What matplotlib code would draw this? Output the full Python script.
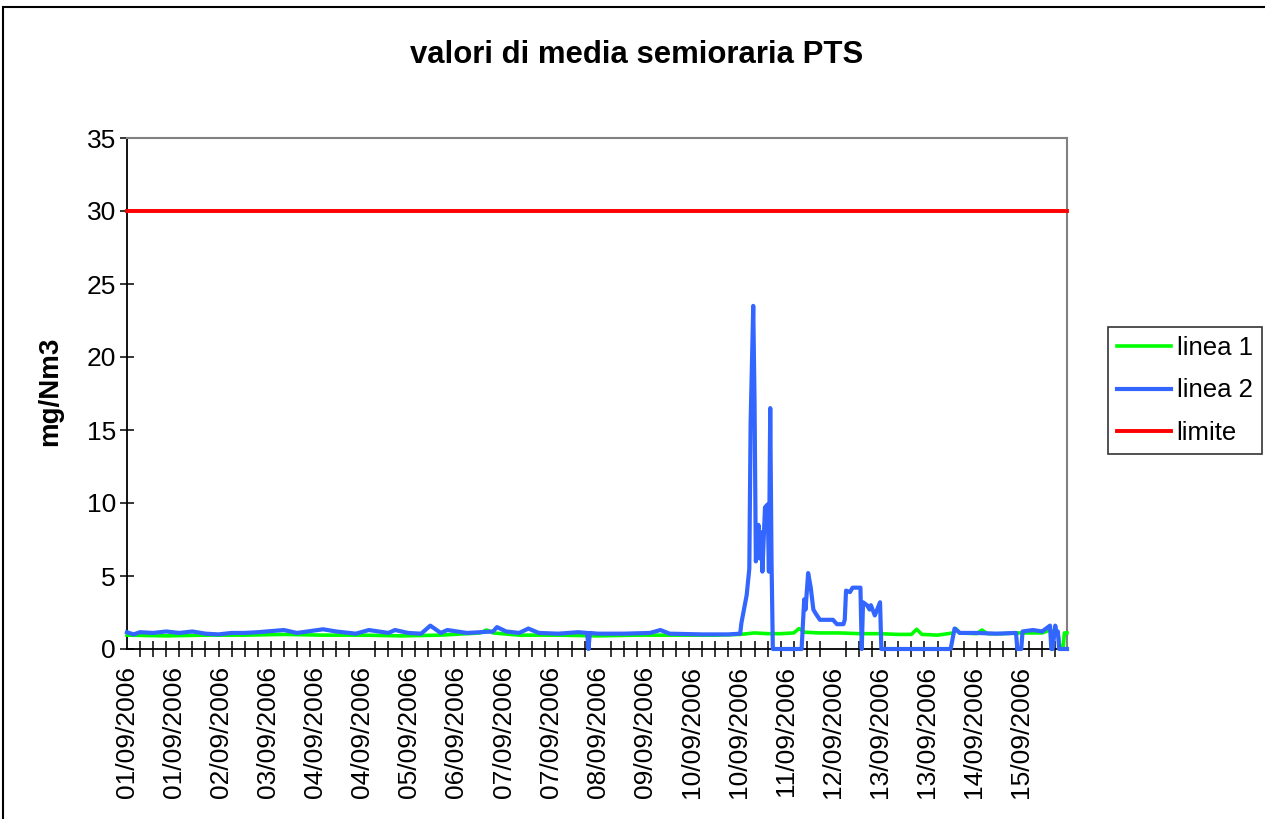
import matplotlib
matplotlib.use('Agg')
from matplotlib import pyplot as plt
from matplotlib.patches import Rectangle
from matplotlib.ticker import FixedLocator

plt.rcParams['font.family'] = ['Liberation Sans', 'DejaVu Sans']

# dati: medie semiorarie (indice = semiora dal 01/09/2006 00:00), 720 valori totali
n_punti = 720

linea1_idx = [0, 30, 60, 90, 120, 150, 180, 210, 240, 270, 275, 280, 300, 330, 360, 390,
              420, 450, 469, 480, 490, 500, 510, 514, 518, 530, 545, 560, 575, 590, 600,
              604, 608, 620, 632, 634, 637, 650, 654, 658, 670, 680, 700, 706, 712, 714,
              716, 717, 719]
linea1_val = [0.95, 0.9, 0.95, 0.95, 1.0, 0.95, 0.95, 0.9, 0.95, 1.1, 1.3, 1.1, 0.95, 0.95,
              0.9, 0.95, 0.95, 0.95, 1.0, 1.1, 1.05, 1.05, 1.1, 1.4, 1.15, 1.1, 1.1, 1.05,
              1.05, 1.0, 1.0, 1.35, 1.0, 0.95, 1.1, 1.4, 1.1, 1.05, 1.3, 1.05, 1.05, 1.1,
              1.1, 1.3, 1.1, 0.0, 0.0, 1.1, 1.1]

linea2_idx = [0, 5, 10, 20, 30, 40, 50, 60, 70, 80, 90, 100, 120, 130, 150, 160, 175, 185,
              200, 205, 215, 225, 232, 240, 245, 260, 280, 283, 290, 300, 307, 315, 330,
              345, 352, 353, 354, 360, 380, 400, 408, 415, 440, 460, 469,
              470, 474, 476, 477, 479, 480, 481, 483, 484, 485, 486, 488, 490, 491, 492,
              493, 494, 516, 518, 519, 521, 523, 525, 527, 530, 540, 543, 548, 549, 550,
              553, 555, 561, 562, 563, 566, 568, 569, 572, 576, 577, 630, 633, 637, 650,
              665, 680, 681, 684, 685, 693, 700, 706, 707, 708, 710, 711, 712, 713, 719]
linea2_val = [1.15, 1.0, 1.15, 1.1, 1.2, 1.1, 1.2, 1.05, 1.0, 1.1, 1.1, 1.15, 1.3, 1.1, 1.35,
              1.2, 1.05, 1.3, 1.1, 1.3, 1.1, 1.05, 1.6, 1.1, 1.3, 1.1, 1.2, 1.5, 1.2, 1.1,
              1.4, 1.1, 1.05, 1.15, 1.1, 0.0, 1.1, 1.05, 1.05, 1.1, 1.3, 1.05, 1.0, 1.0,
              1.05,
              1.8, 3.7, 5.5, 15.5, 23.5, 17.0, 6.0, 8.5, 6.2, 8.0, 5.3, 9.7, 9.9, 5.3, 16.5,
              6.0, 0.0, 0.0, 3.4, 2.7, 5.2, 4.2, 2.7, 2.4, 2.0, 2.0, 1.7, 1.7, 2.0, 4.0,
              3.9, 4.2, 4.2, 0.0, 3.2, 3.0, 2.7, 3.0, 2.3, 3.2, 0.0, 0.0, 1.4, 1.1, 1.1,
              1.05, 1.1, 0.0, 0.0, 1.2, 1.3, 1.2, 1.6, 0.0, 0.0, 1.6, 1.1, 1.2, 0.0, 0.0]

limite = 30

etichette_x = ['01/09/2006', '01/09/2006', '02/09/2006', '03/09/2006', '04/09/2006',
               '04/09/2006', '05/09/2006', '06/09/2006', '07/09/2006', '07/09/2006',
               '08/09/2006', '09/09/2006', '10/09/2006', '10/09/2006', '11/09/2006',
               '12/09/2006', '13/09/2006', '13/09/2006', '14/09/2006', '15/09/2006']
passo_etichette = 36
passo_tacche = 10

fig = plt.figure(figsize=(12.65, 8.19), dpi=100)
ax = fig.add_axes([127/1265, 1-649/819, 940/1265, 511/819])

ax.plot(linea1_idx, linea1_val, color='#00FF00', lw=2.6, label='linea 1',
        solid_joinstyle='round', clip_on=False, zorder=3)
ax.plot(linea2_idx, linea2_val, color='#3366FF', lw=3.0, label='linea 2',
        solid_joinstyle='round', clip_on=False, zorder=4)
ax.plot([0, n_punti-1], [limite, limite], color='#FF0000', lw=2.8, label='limite',
        clip_on=False, zorder=5)

ax.set_xlim(0, n_punti-1)
ax.set_ylim(0, 35)
ax.set_yticks(range(0, 36, 5))

ax.set_xticks([i*passo_etichette for i in range(len(etichette_x))])
ax.set_xticklabels(etichette_x, rotation=90, fontsize=19)
ax.xaxis.set_minor_locator(FixedLocator(range(0, n_punti, passo_tacche)))
ax.tick_params(axis='x', which='major', length=0, pad=12)
ax.tick_params(axis='x', which='minor', direction='inout', length=12, width=1.1)
ax.tick_params(axis='y', direction='inout', length=10, width=1.1, labelsize=19, pad=3)

for s in ['top', 'right']:
    ax.spines[s].set_color('#808080')
    ax.spines[s].set_linewidth(1.5)
for s in ['left', 'bottom']:
    ax.spines[s].set_linewidth(1.3)

fig.text(0.5035, 1-55/819, 'valori di media semioraria PTS', ha='center', va='center',
         fontsize=22.4, fontweight='bold')
fig.text(50/1265, 1-391/819, 'mg/Nm3', rotation=90, ha='center', va='center',
         fontsize=20, fontweight='bold')

leg = fig.legend(loc='upper left', bbox_to_anchor=(1108/1265, 1-327/819), fontsize=18.5,
                 frameon=True, fancybox=False, edgecolor='black', handlelength=2.1,
                 handletextpad=0.22, labelspacing=0.72, borderpad=0.35, borderaxespad=0)
leg.get_frame().set_linewidth(1.2)

# cornice esterna del grafico
fig.patches.append(Rectangle((3/1265, -0.05), 1.1, 1.05-7/819, fill=False, lw=1.5,
                             edgecolor='black', transform=fig.transFigure))

fig.savefig('out.png', dpi=100)
